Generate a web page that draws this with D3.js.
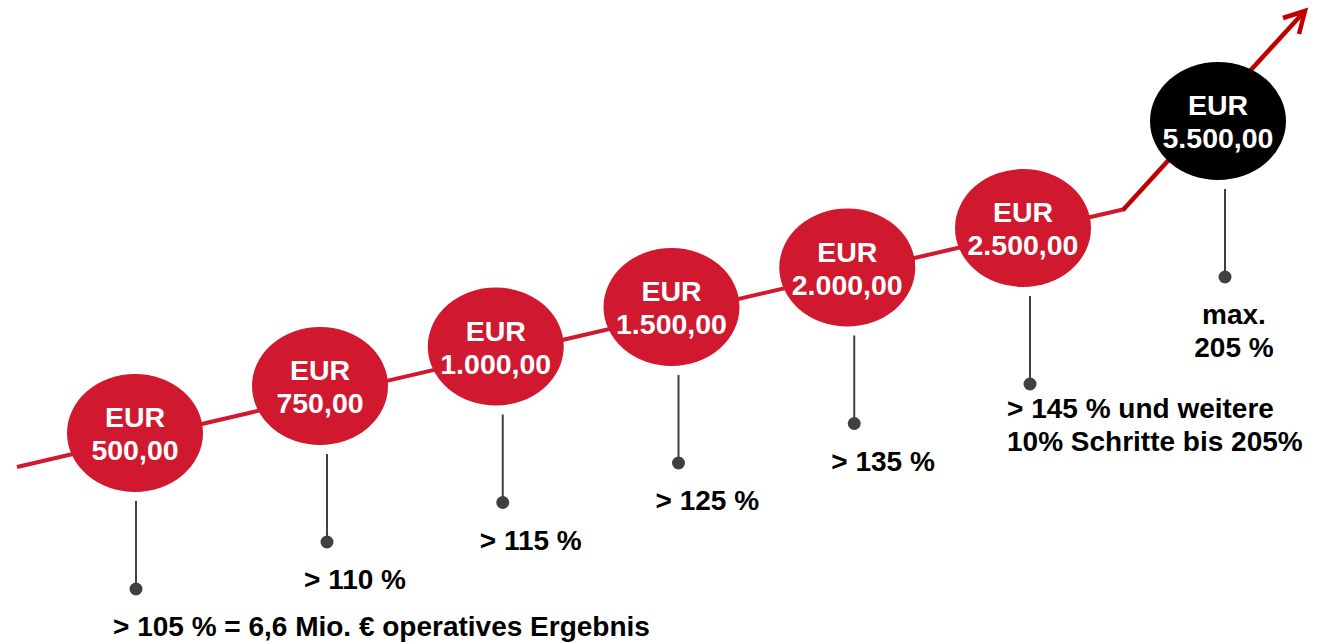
<!DOCTYPE html>
<html>
<head>
<meta charset="utf-8">
<script src="https://cdn.jsdelivr.net/npm/d3@7"></script>
<style>
body{margin:0;background:#fff}
svg{display:block}
text{font-family:"Liberation Sans",Arial,sans-serif;font-weight:bold}
</style>
</head>
<body>
<div id="chart"></div>
<script>
// bonus tiers
var currency = "EUR"
var amounts = ["500,00","750,00","1.000,00","1.500,00","2.000,00","2.500,00","5.500,00"]
var thresholds = [
	["> 105 % = 6,6 Mio. € operatives Ergebnis"],
	["> 110 %"],
	["> 115 %"],
	["> 125 %"],
	["> 135 %"],
	["> 145 % und weitere","10% Schritte bis 205%"],
	["max.","205 %"]
]

var w = 1324
var h = 643
var red = "#d0192f"
var arrowRed = "#c00000"
var grey = "#404040"
var rx = 68, ry = 59

var idx = d3.range(amounts.length)
var last = amounts.length-1

// tier position along the rising line
var x = d3.scaleLinear().domain([0,1,5,6]).range([135,320,1023,1218])
var y = d3.scaleLinear().domain([0,1,5,6]).range([433,386,228,121])

var svg = d3.select("#chart").append("svg").attr("width",w).attr("height",h)

// rising line + arrow
var linePath = d3.line()
svg.append("path")
	.attr("d",linePath([[17,467],[1125,209]]))
	.attr("stroke",red).attr("stroke-width",4).attr("fill","none")
svg.append("path")
	.attr("d",linePath([[1123,210],[1303,13]]))
	.attr("stroke",arrowRed).attr("stroke-width",4.5).attr("fill","none")
svg.append("path")
	.attr("d",linePath([[1283,18],[1305,11],[1299,34]]))
	.attr("stroke",arrowRed).attr("stroke-width",4.5).attr("fill","none")

// stems
var stemX = function(i){ return x(i)+(i==0 ? 1 : 7) }
var stemTop = function(i){ return y(i)+ry+9 }
var dotY = function(i){ return stemTop(i)+88 }

svg.selectAll(".stem")
	.data(idx)
	.enter()
	.append("line")
	.attr("class","stem")
	.attr("x1",stemX).attr("x2",stemX)
	.attr("y1",stemTop).attr("y2",dotY)
	.attr("stroke",grey).attr("stroke-width",2)

svg.selectAll(".dot")
	.data(idx)
	.enter()
	.append("circle")
	.attr("class","dot")
	.attr("cx",stemX).attr("cy",dotY).attr("r",6.5)
	.attr("fill",grey)

// bubbles
svg.selectAll(".bubble")
	.data(idx)
	.enter()
	.append("ellipse")
	.attr("class","bubble")
	.attr("cx",function(i){return x(i)})
	.attr("cy",function(i){return y(i)})
	.attr("rx",rx).attr("ry",ry)
	.attr("fill",function(i){return i==last ? "#000" : red})

svg.selectAll(".cur")
	.data(idx)
	.enter()
	.append("text")
	.attr("class","cur")
	.text(currency)
	.attr("x",function(i){return x(i)})
	.attr("y",function(i){return y(i)-6})
	.attr("text-anchor","middle")
	.attr("fill","#fff")
	.style("font-size","28.5px")

svg.selectAll(".amount")
	.data(idx)
	.enter()
	.append("text")
	.attr("class","amount")
	.text(function(i){return amounts[i]})
	.attr("x",function(i){return x(i)})
	.attr("y",function(i){return y(i)+27})
	.attr("text-anchor","middle")
	.attr("fill","#fff")
	.style("font-size","28.5px")

// threshold labels
var labelX = function(i){ return i==last ? stemX(i)+9 : stemX(i)-23 }
var labels = svg.selectAll(".label")
	.data(idx)
	.enter()
	.append("text")
	.attr("class","label")
	.attr("x",labelX)
	.attr("y",function(i){return dotY(i)+(thresholds[i].length>1 && i!=last ? 34 : 47)})
	.attr("text-anchor",function(i){return i==last ? "middle" : "start"})
	.attr("fill","#000")
	.style("font-size","28px")

labels.selectAll("tspan")
	.data(function(i){return thresholds[i].map(function(t,k){return {t:t,k:k,i:i}})})
	.enter()
	.append("tspan")
	.attr("x",function(d){return labelX(d.i)})
	.attr("dy",function(d){return d.k==0 ? 0 : 33})
	.text(function(d){return d.t})
</script>
</body>
</html>
